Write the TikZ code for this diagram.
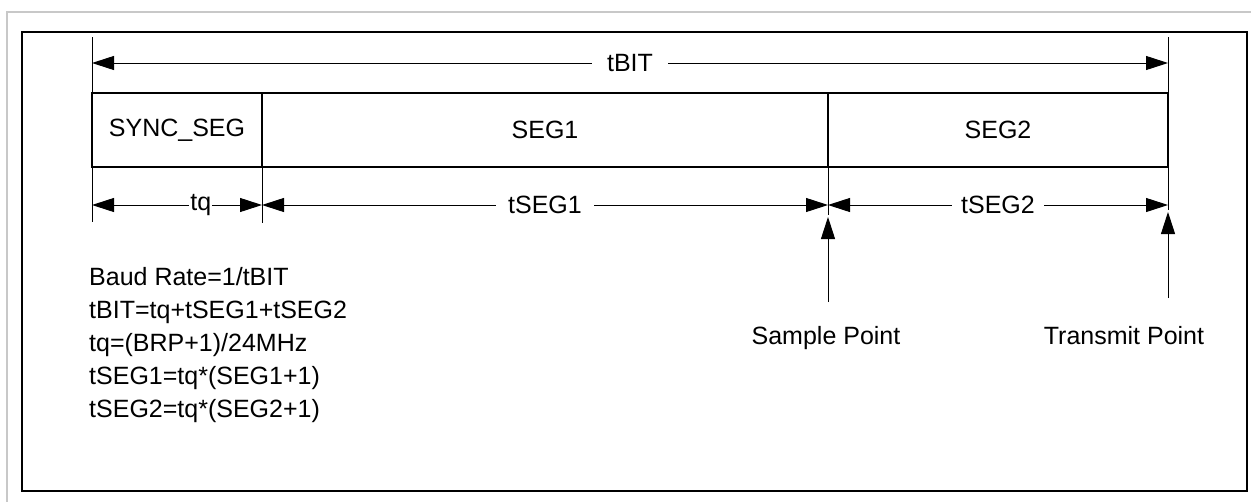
\documentclass[tikz,border=0pt]{standalone}
\usepackage{fontspec}
\setmainfont{Liberation Sans}
\usetikzlibrary{arrows.meta,positioning}
\definecolor{cFrame}{RGB}{200,200,200}
\tikzset{
    tip/.tip={Triangle[length=22pt,width=14pt]},
    dimline/.style={line width=1pt, tip-tip},
    upline/.style={line width=1pt, -tip},
    tickline/.style={line width=1pt},
    segbox/.style={draw, line width=1.6pt, minimum height=74pt, inner sep=0pt, outer sep=0pt},
    dimlbl/.style={fill=white, inner xsep=12pt, inner ysep=2pt},
    txt/.style={inner sep=0pt}
}

\begin{document}
\begin{tikzpicture}[x=1pt, y=-1pt, font=\fontsize{25}{31}\selectfont]
        \useasboundingbox (0,0) rectangle (1251,501);
        \draw[cFrame, line width=2pt] (7,12) rectangle (1270,520);
        \draw[line width=2pt] (22,32) rectangle (1247,491);
        
        % segments
        \node[segbox, minimum width=170pt, anchor=north west] (sync) at (92,93) {SYNC\_SEG};
        \node[segbox, minimum width=566pt, right=0pt of sync] (seg1) {SEG1};
        \node[segbox, minimum width=340pt, right=0pt of seg1] (seg2) {SEG2};
        
        % ticks
        \coordinate (tickL) at (92,37);
        \coordinate (tickLb) at (92,222);
        \coordinate (tickA) at (262,167);
        \coordinate (tickAb) at (262,223);
        \coordinate (tickB) at (828,167);
        \coordinate (tickBb) at (828,215);
        \coordinate (tickR) at (1168,37);
        \coordinate (tickRb) at (1168,210);
        \draw[tickline] (tickL) -- (tickLb);
        \draw[tickline] (tickA) -- (tickAb);
        \draw[tickline] (tickB) -- (tickBb);
        \draw[tickline] (tickR) -- (tickRb);
        
        % tBIT
        \coordinate (bitA) at (92,63);
        \coordinate (bitB) at (1168,63);
        \draw[dimline] (bitA) -- node[dimlbl, inner xsep=15pt] (lblBit) {tBIT} (bitB);
        
        % tq, tSEG1, tSEG2
        \coordinate (d0) at (92,205);
        \coordinate (d1) at (262,205);
        \coordinate (d2) at (828,205);
        \coordinate (d3) at (1168,205);
        \draw[dimline] (d0) -- node[dimlbl, pos=0.64, inner xsep=1pt] (lblTq) {tq} (d1);
        \draw[dimline] (d1) -- node[dimlbl] (lblSeg1) {tSEG1} (d2);
        \draw[dimline] (d2) -- node[dimlbl, inner xsep=9pt] (lblSeg2) {tSEG2} (d3);
        
        % sample / transmit
        \coordinate (sampleFoot) at (828,302);
        \coordinate (sampleTip) at (828,217);
        \coordinate (transFoot) at (1168,298);
        \coordinate (transTip) at (1168,212);
        \draw[upline] (sampleFoot) -- (sampleTip);
        \draw[upline] (transFoot) -- (transTip);
        \node[txt, anchor=base] (sample) at (826,344) {Sample Point};
        \node[txt, anchor=base] (transmit) at (1124,344) {Transmit Point};
        
        % formulas
        \node[txt, anchor=base west] (fBaud) at (89,285) {Baud Rate=1/tBIT};
        \node[txt, anchor=base west] (fBit) at (89,318) {tBIT=tq+tSEG1+tSEG2};
        \node[txt, anchor=base west] (fTq) at (89,351) {tq=(BRP+1)/24MHz};
        \node[txt, anchor=base west] (fSeg1) at (89,384) {tSEG1=tq*(SEG1+1)};
        \node[txt, anchor=base west] (fSeg2) at (89,417) {tSEG2=tq*(SEG2+1)};
    \end{tikzpicture}
\end{document}
